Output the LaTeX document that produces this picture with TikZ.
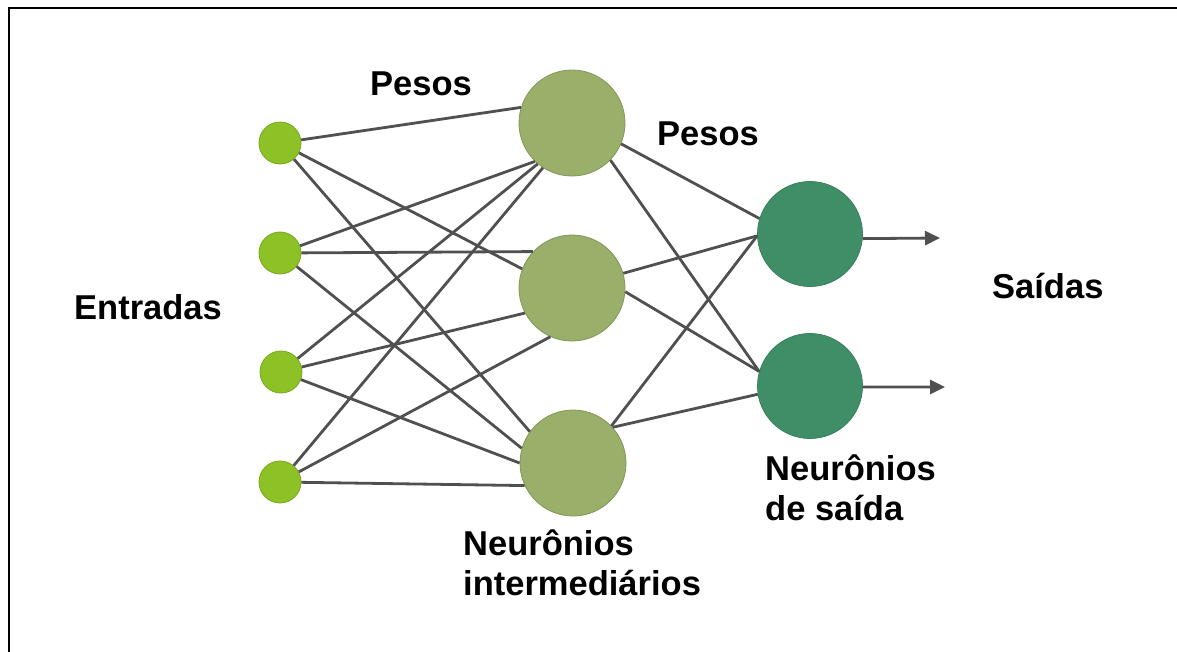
\documentclass[tikz,border=0pt]{standalone}
\usepackage{fontspec}
\setmainfont{Liberation Sans}
\usepackage{tikz}
\usetikzlibrary{positioning, shapes, arrows.meta}

\definecolor{inputgreen}{RGB}{141,194,38}
\definecolor{hiddengreen}{RGB}{154,175,106}
\definecolor{outputgreen}{RGB}{63,142,104}
\definecolor{wiregray}{RGB}{80,80,80}

\begin{document}
\begin{tikzpicture}[
        x=1pt, y=-1pt,
        node distance=1cm,
        inputnode/.style={circle, draw=inputgreen!85!black, line width=0.8pt, fill=inputgreen, minimum size=42pt, inner sep=0pt},
        hiddennode/.style={circle, draw=hiddengreen!85!black, line width=0.8pt, fill=hiddengreen, minimum size=106pt, inner sep=0pt},
        outputnode/.style={circle, draw=outputgreen!90!black, line width=0.8pt, fill=outputgreen, minimum size=105pt, inner sep=0pt},
        link/.style={draw=wiregray, line width=2.8pt},
        arrow/.style={-{Triangle[length=15pt, width=14pt]}, draw=wiregray, line width=2.8pt},
        txt/.style={inner sep=0pt, anchor=base west, align=left, font=\fontsize{34.5}{39.5}\selectfont\bfseries}
    ]

    \useasboundingbox (0,0) rectangle (1177,651);
    \draw[line width=2.5pt] (9,660) -- (9,8) -- (1185,8);

    \node[inputnode] (in1) at (280,143) {};
    \node[inputnode] (in2) at (280,253) {};
    \node[inputnode] (in3) at (281,372) {};
    \node[inputnode] (in4) at (280,482) {};

    \node[hiddennode] (h1) at (572,123) {};
    \node[hiddennode] (h2) at (572,288) {};
    \node[hiddennode] (h3) at (573,463) {};

    \node[outputnode] (o1) at (810,234) {};
    \node[outputnode] (o2) at (810,386) {};

    \coordinate (y1) at (940,238);
    \coordinate (y2) at (945,387);

    \draw[link] (in1) -- (h1.163);
    \draw[link] (in1) -- (h2.159);
    \draw[link] (in1) -- (h3.144);
    \draw[link] (in2) -- (h1.226);
    \draw[link] (in2) -- (h2.137);
    \draw[link] (in2) -- (h3.164);
    \draw[link] (in3) -- (h1.230);
    \draw[link] (in3) -- (h2.208);
    \draw[link] (in3) -- (h3.180);
    \draw[link] (in4) -- (h1.237);
    \draw[link] (in4) -- (h2.246);
    \draw[link] (in4) -- (h3.205);

    \draw[link] (h1.337) -- (o1.163);
    \draw[link] (h1.316) -- (o2.164);
    \draw[link] (h2.16) -- (o1.182);
    \draw[link] (h2.356) -- (o2.164);
    \draw[link] (h3.44) -- (o1.182);
    \draw[link] (h3.42) -- (o2.189);

    \draw[arrow] (o1.-5) -- (y1);
    \draw[arrow] (o2.-1) -- (y2);

    % base of a two-line node is its last line
    \node[txt] (entradas) at (74,319) {Entradas};
    \node[txt] (pesos1) at (370,95) {Pesos};
    \node[txt] (pesos2) at (657,145) {Pesos};
    \node[txt] (saidas) at (992,298) {Saídas};
    \node[txt] (nsaida) at (765,520) {Neurônios\\de saída};
    \node[txt] (ninter) at (463,595) {Neurônios\\intermediários};

\end{tikzpicture}
\end{document}
